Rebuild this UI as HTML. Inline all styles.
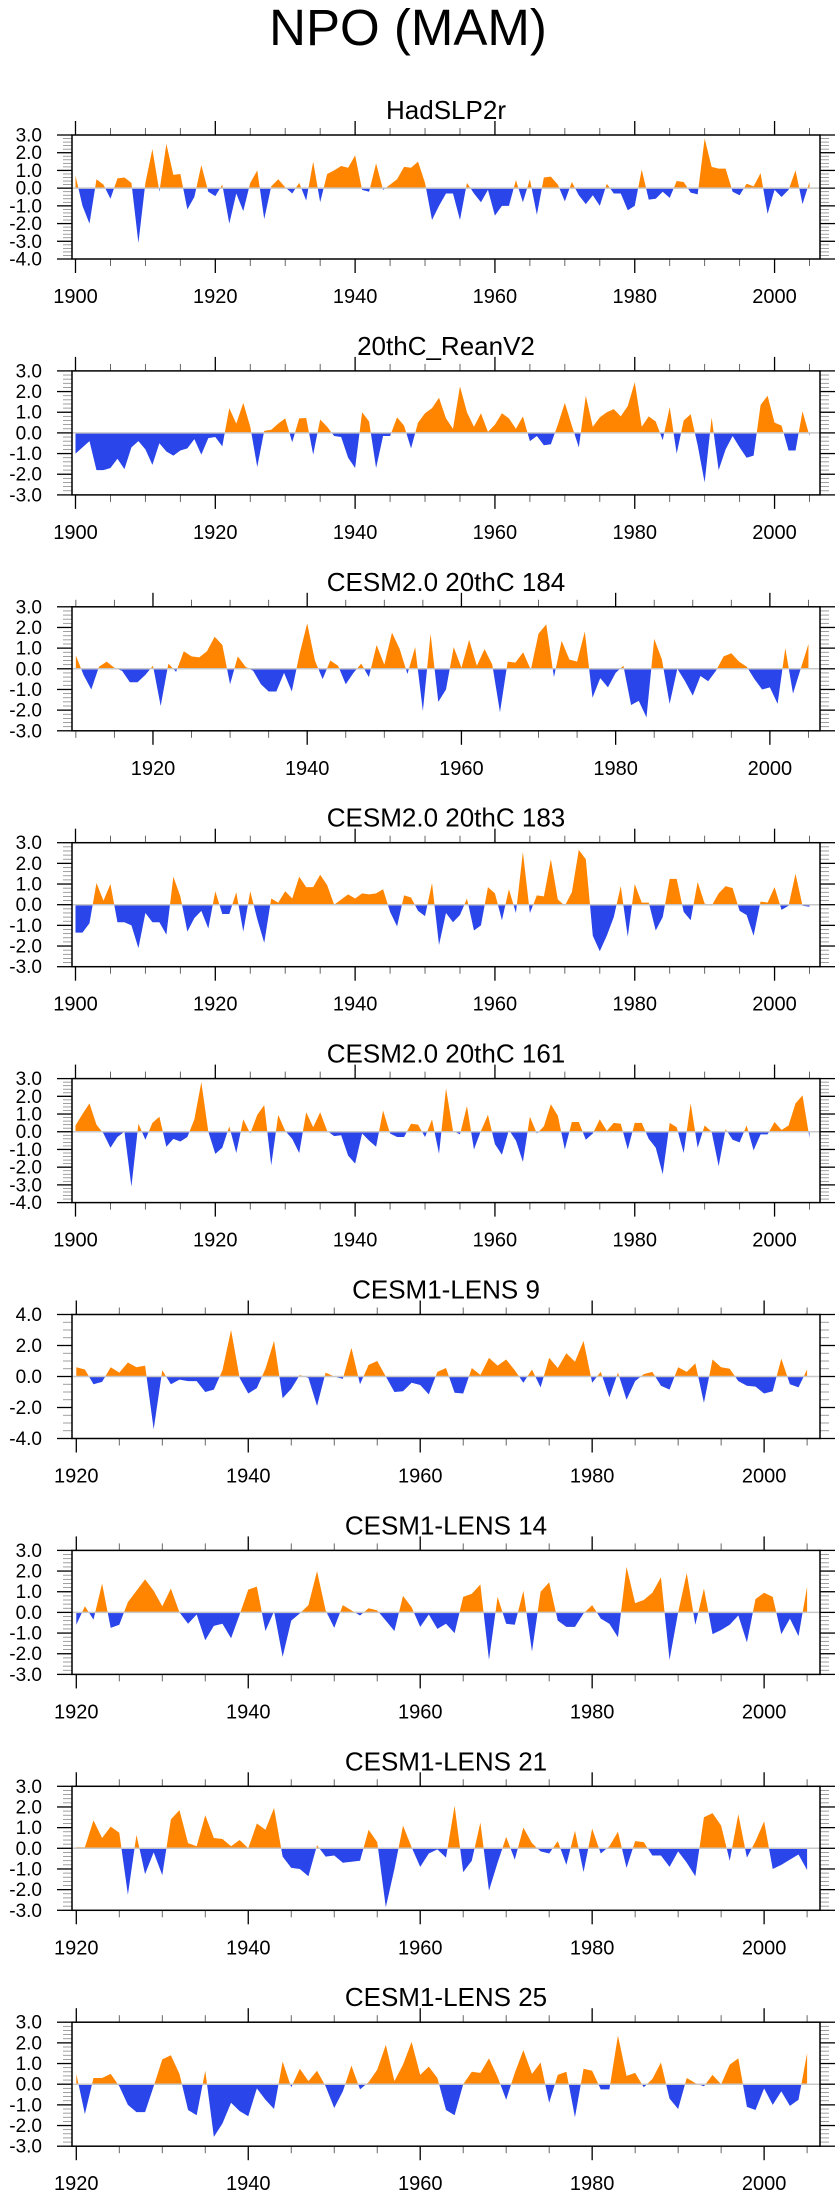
<!DOCTYPE html>
<html><head><meta charset="utf-8"><title>NPO (MAM)</title>
<style>
html,body{margin:0;padding:0;background:#fff;}
svg{display:block;font-family:"Liberation Sans",Arial,sans-serif;}
</style></head>
<body>
<svg id="fig" width="840" height="2200" viewBox="0 0 840 2200" xmlns="http://www.w3.org/2000/svg">
<text x="408" y="45" font-size="51" text-anchor="middle">NPO (MAM)</text>
</svg>
<script>
const titles = ["HadSLP2r","20thC_ReanV2","CESM2.0 20thC 184","CESM2.0 20thC 183","CESM2.0 20thC 161","CESM1-LENS 9","CESM1-LENS 14","CESM1-LENS 21","CESM1-LENS 25"];
const startYears = [1900,1900,1910,1900,1900,1920,1920,1920,1920];
const endYear = 2006.5;
const yMaxs = [3,3,3,3,3,4,3,3,3];
const yMins = [-4,-3,-3,-3,-4,-4,-3,-3,-3];
const yMajorSteps = [1,1,1,1,1,2,1,1,1];
const yMinorSteps = [0.2,0.2,0.2,0.2,0.2,0.5,0.2,0.2,0.2];
const xTickLabels = ["1900","1920","1940","1960","1980","2000"];

const v1 = [0.7,-1.0,-2.0,0.5,0.2,-0.6,0.55,0.6,0.3,-3.1,0.3,2.2,-0.2,2.5,0.75,0.8,-1.2,-0.5,1.3,-0.2,-0.45,0.2,-2.0,-0.3,-1.3,0.3,1.0,-1.75,0.1,0.5,0.05,-0.3,0.3,-0.7,1.5,-0.8,0.8,1.0,1.25,1.15,1.85,-0.1,-0.2,1.4,-0.1,0.2,0.5,1.2,1.15,1.5,0.3,-1.8,-1.0,-0.3,-0.3,-1.8,0.3,-0.3,-0.8,-0.1,-1.55,-1.0,-1.0,0.45,-0.8,0.5,-1.5,0.6,0.65,0.2,-0.75,0.35,-0.4,-0.9,-0.4,-1.0,0.25,-0.3,-0.3,-1.25,-1.0,1.05,-0.65,-0.6,-0.2,-0.55,0.4,0.35,-0.25,-0.35,2.8,1.2,1.1,1.1,-0.2,-0.4,0.25,0.1,0.85,-1.45,-0.1,-0.5,-0.1,1.0,-0.9,0.35];
const v2 = [-1.0,-0.7,-0.4,-1.8,-1.8,-1.7,-1.25,-1.75,-0.7,-0.4,-0.8,-1.55,-0.5,-0.9,-1.1,-0.85,-0.75,-0.3,-1.05,-0.25,-0.2,-0.65,1.2,0.45,1.45,0.3,-1.65,0.1,0.15,0.45,0.7,-0.45,0.7,0.72,-1.05,0.65,0.3,-0.15,-0.2,-1.2,-1.7,1.0,0.55,-1.7,-0.15,-0.15,0.75,0.35,-0.75,0.5,0.95,1.2,1.7,0.7,0.2,2.25,1.0,0.3,0.95,0.05,0.4,0.95,0.7,0.2,0.8,-0.4,-0.15,-0.6,-0.55,0.4,1.45,0.35,-0.7,1.8,0.3,0.75,1.0,1.15,0.8,1.3,2.45,0.3,0.8,0.55,-0.35,1.25,-1.0,0.6,0.9,-0.6,-2.4,0.75,-1.8,-0.8,-0.15,-0.7,-1.2,-1.1,1.35,1.8,0.5,0.35,-0.85,-0.85,1.05,-0.15];
const v3 = [0.65,-0.3,-1.0,0.1,0.35,0.05,-0.1,-0.65,-0.65,-0.3,0.15,-1.8,0.25,-0.15,0.85,0.6,0.55,0.85,1.55,1.15,-0.75,0.6,0.1,-0.1,-0.75,-1.1,-1.1,-0.2,-1.1,0.7,2.2,0.4,-0.5,0.4,0.15,-0.75,-0.2,0.25,-0.4,1.15,0.2,1.75,0.95,-0.25,1.05,-2.05,1.7,-1.6,-1.0,1.05,0.05,1.4,0.15,0.95,0.2,-2.1,0.35,0.3,0.8,-0.05,1.7,2.15,-0.4,1.35,0.45,0.35,1.8,-1.4,-0.45,-0.9,-0.2,0.15,-1.75,-1.55,-2.35,1.45,0.45,-1.7,0.0,-0.6,-1.3,-0.35,-0.6,-0.1,0.6,0.75,0.35,0.1,-0.5,-1.0,-0.9,-1.7,1.0,-1.2,0.0,1.2];
const v4 = [-1.35,-1.35,-0.9,1.05,0.2,1.0,-0.85,-0.85,-1.0,-2.1,-0.4,-0.85,-0.85,-1.45,1.35,0.4,-1.3,-0.65,-0.3,-1.15,0.65,-0.45,-0.45,0.6,-1.3,0.65,-0.7,-1.85,0.3,0.1,0.65,0.3,1.35,0.85,0.85,1.45,0.95,0.0,0.25,0.5,0.3,0.55,0.5,0.55,0.75,-0.35,-1.05,0.45,0.35,-0.3,-0.55,1.05,-1.95,-0.4,-0.85,-0.5,0.3,-1.25,-1.0,0.85,0.55,-0.75,0.75,-0.4,2.55,-0.4,0.45,0.4,2.2,0.25,-0.05,0.6,2.65,2.2,-1.5,-2.25,-1.5,-0.6,0.9,-1.55,1.0,0.1,0.1,-1.25,-0.6,1.25,1.25,-0.35,-0.75,1.1,0.05,-0.05,0.55,0.9,0.8,-0.3,-0.5,-1.5,0.15,0.1,0.85,-0.25,-0.05,1.5,-0.05,-0.1];
const v5 = [0.35,1.0,1.6,0.4,-0.1,-0.9,-0.3,0.0,-3.1,0.45,-0.45,0.5,0.85,-0.85,-0.4,-0.55,-0.3,0.7,2.8,0.0,-1.25,-0.9,0.3,-1.2,0.7,-0.1,0.95,1.5,-1.9,0.95,0.05,-0.4,-1.2,1.1,0.25,1.1,0.05,-0.25,-0.2,-1.35,-1.8,-0.1,-0.5,-0.85,1.2,-0.1,-0.3,-0.3,0.45,0.4,-0.3,0.7,-1.25,2.45,0.05,-0.15,1.45,-1.0,0.05,0.95,-0.7,-1.3,0.1,-0.5,-1.7,0.85,-0.1,0.3,1.55,0.9,-1.0,0.55,0.55,-0.45,-0.1,0.7,0.05,0.5,0.45,-1.0,0.5,0.5,-0.4,-0.9,-2.4,0.5,0.25,-1.2,1.6,-0.9,0.35,0.0,-1.95,0.15,-0.45,-0.6,0.35,-1.05,-0.15,-0.15,0.55,0.1,0.35,1.6,2.05,-0.35];
const v6 = [0.6,0.45,-0.5,-0.35,0.6,0.25,0.9,0.6,0.7,-3.4,0.4,-0.5,-0.2,-0.3,-0.3,-1.0,-0.85,0.4,3.0,-0.1,-1.1,-0.75,0.5,2.3,-1.4,-0.8,0.1,-0.1,-1.9,0.25,0.0,-0.15,1.85,-0.5,0.75,1.0,0.0,-1.0,-0.95,-0.4,-0.55,-1.15,0.3,0.55,-1.05,-1.1,0.55,0.1,1.2,0.7,1.1,0.4,-0.4,0.45,-0.7,1.2,0.55,1.5,0.95,2.3,-0.4,0.3,-1.35,0.25,-1.5,-0.3,0.15,0.3,-0.6,-0.85,0.6,0.3,0.85,-1.7,1.1,0.6,0.5,-0.3,-0.6,-0.65,-1.1,-0.95,1.15,-0.5,-0.7,0.45];
const v7 = [-0.6,0.3,-0.35,1.4,-0.75,-0.6,0.5,1.05,1.6,1.05,0.3,1.15,0.0,-0.55,-0.1,-1.35,-0.65,-0.55,-1.25,-0.1,1.1,1.25,-0.9,0.05,-2.15,-0.4,-0.05,0.35,2.0,0.1,-0.75,0.35,0.1,-0.15,0.2,0.1,-0.4,-0.9,0.8,0.25,-0.7,-0.1,-0.8,-0.55,-1.0,0.75,0.9,1.35,-2.3,0.75,-0.55,-0.6,1.05,-1.9,1.0,1.45,-0.4,-0.7,-0.7,-0.05,0.35,-0.3,-0.55,-1.2,2.2,0.45,0.6,0.95,1.7,-2.3,0.0,1.9,-0.6,1.15,-1.05,-0.85,-0.6,-0.15,-1.45,0.65,0.95,0.75,-1.05,-0.3,-1.15,1.25];
const v8 = [0.05,0.05,1.35,0.5,1.05,0.75,-2.25,0.65,-1.25,-0.2,-1.3,1.4,1.85,0.25,0.1,1.6,0.5,0.45,0.1,0.4,0.0,1.2,0.9,1.95,-0.4,-0.95,-1.0,-1.35,0.15,-0.4,-0.35,-0.7,-0.65,-0.6,0.9,0.3,-2.85,-1.0,1.1,0.05,-0.9,-0.25,-0.05,-0.45,2.05,-1.15,-0.6,1.25,-2.05,-0.7,0.55,-0.55,1.0,0.25,-0.15,-0.25,0.35,-0.8,0.85,-1.15,0.95,-0.25,0.1,0.8,-0.95,0.35,0.3,-0.35,-0.35,-0.9,-0.15,-0.7,-1.35,1.5,1.7,1.1,-0.6,1.65,-0.45,0.35,1.3,-1.0,-0.8,-0.55,-0.3,-1.05];
const v9 = [0.5,-1.45,0.3,0.3,0.5,-0.1,-1.0,-1.35,-1.35,-0.1,1.2,1.4,0.5,-1.25,-1.5,0.65,-2.55,-1.9,-0.9,-1.3,-1.55,-0.2,-0.75,-1.2,1.1,-0.15,0.75,0.15,0.65,-0.1,-1.15,-0.35,0.9,-0.25,0.1,0.7,1.9,0.15,0.95,2.05,0.45,0.85,0.3,-1.25,-1.5,0.0,0.6,0.55,1.25,0.35,-0.75,0.55,1.65,0.5,1.05,-0.9,0.45,0.6,-1.6,0.75,0.65,-0.25,-0.25,2.35,0.4,0.55,-0.15,0.25,1.05,-0.7,-1.2,0.3,0.05,-0.1,0.45,0.0,0.95,1.25,-1.1,-1.25,-0.2,-1.0,-0.35,-1.05,-0.75,1.5];
const seriesList = [v1,v2,v3,v4,v5,v6,v7,v8,v9];

const NS = "http://www.w3.org/2000/svg";
const svg = document.getElementById("fig");
const BOX_L = 72, BOX_R = 820, BOX_H = 124, TOP0 = 135, STEP = 235.9;
const ORANGE = "#ff8500", BLUE = "#2a45ea";

function mk(tag, attrs, parent){
  const e = document.createElementNS(NS, tag);
  for (const k in attrs) e.setAttribute(k, attrs[k]);
  (parent || svg).appendChild(e);
  return e;
}
function fmt(v){ return v.toFixed(1); }

seriesList.forEach(function(vals, i){
  const top = TOP0 + STEP * i, bot = top + BOX_H;
  const x0 = startYears[i] - 0.5;
  const xs = function(yr){ return BOX_L + (yr - x0) / (endYear - x0) * (BOX_R - BOX_L); };
  const ys = function(v){ return top + (yMaxs[i] - v) / (yMaxs[i] - yMins[i]) * BOX_H; };

  const g = mk("g", {});
  
  

  const t = mk("text", {x: (BOX_L + BOX_R) / 2, y: top - 16, "font-size": 26, "text-anchor": "middle"}, g);
  
  
  t.textContent = titles[i];

  // clips
  const z = ys(0);
  const cpA = mk("clipPath", {id: "ca" + i}, g);
  mk("rect", {x: BOX_L, y: top, width: BOX_R - BOX_L, height: z - top}, cpA);
  const cpB = mk("clipPath", {id: "cb" + i}, g);
  mk("rect", {x: BOX_L, y: z, width: BOX_R - BOX_L, height: bot - z}, cpB);

  let d = "M" + xs(startYears[i]).toFixed(2) + "," + z.toFixed(2);
  vals.forEach(function(v, k){ d += " L" + xs(startYears[i] + k).toFixed(2) + "," + ys(v).toFixed(2); });
  d += " L" + xs(startYears[i] + vals.length - 1).toFixed(2) + "," + z.toFixed(2) + " Z";
  const pa = mk("path", {d: d, fill: ORANGE, "clip-path": "url(#ca" + i + ")"}, g);
  
  
  const pb = mk("path", {d: d, fill: BLUE, "clip-path": "url(#cb" + i + ")"}, g);
  
  

  const zl = mk("line", {x1: BOX_L, x2: BOX_R, y1: z, y2: z, stroke: "#c8c8c8", "stroke-width": 1.5}, g);
  
  

  // y ticks
  const nMin = Math.round((yMaxs[i] - yMins[i]) / yMinorSteps[i]);
  for (let k = 0; k <= nMin; k++){
    const v = yMins[i] + k * yMinorSteps[i], y = ys(v);
    mk("line", {x1: BOX_L - 9, x2: BOX_L, y1: y, y2: y, stroke: "#888", "stroke-width": 0.8}, g);
    mk("line", {x1: BOX_R, x2: BOX_R + 9, y1: y, y2: y, stroke: "#888", "stroke-width": 0.8}, g);
  }
  const nMaj = Math.round((yMaxs[i] - yMins[i]) / yMajorSteps[i]);
  for (let k = 0; k <= nMaj; k++){
    const v = yMins[i] + k * yMajorSteps[i], y = ys(v);
    mk("line", {x1: BOX_L - 15, x2: BOX_L, y1: y, y2: y, stroke: "#000", "stroke-width": 1.3}, g);
    mk("line", {x1: BOX_R, x2: BOX_R + 15, y1: y, y2: y, stroke: "#000", "stroke-width": 1.3}, g);
    const lb = mk("text", {x: 42, y: y + 6.5, "font-size": 19, "text-anchor": "end"}, g);
    
    
    lb.textContent = fmt(v);
  }

  // x ticks
  for (let yr = Math.ceil(startYears[i] / 5) * 5; yr <= endYear; yr += 5){
    const x = xs(yr), major = (yr % 20 === 0);
    const L = major ? 14 : 7;
    mk("line", {x1: x, x2: x, y1: top - L, y2: top, stroke: major ? "#000" : "#555", "stroke-width": major ? 1.3 : 0.9}, g);
    mk("line", {x1: x, x2: x, y1: bot, y2: bot + L, stroke: major ? "#000" : "#555", "stroke-width": major ? 1.3 : 0.9}, g);
    if (major && xTickLabels.indexOf(String(yr)) >= 0){
      const xl = mk("text", {x: x, y: bot + 44, "font-size": 20, "text-anchor": "middle"}, g);
      
      
      xl.textContent = String(yr);
    }
  }

  const box = mk("rect", {x: BOX_L, y: top, width: BOX_R - BOX_L, height: BOX_H, fill: "none", stroke: "#000", "stroke-width": 1.5}, g);
  
  
});
</script>
</body></html>
